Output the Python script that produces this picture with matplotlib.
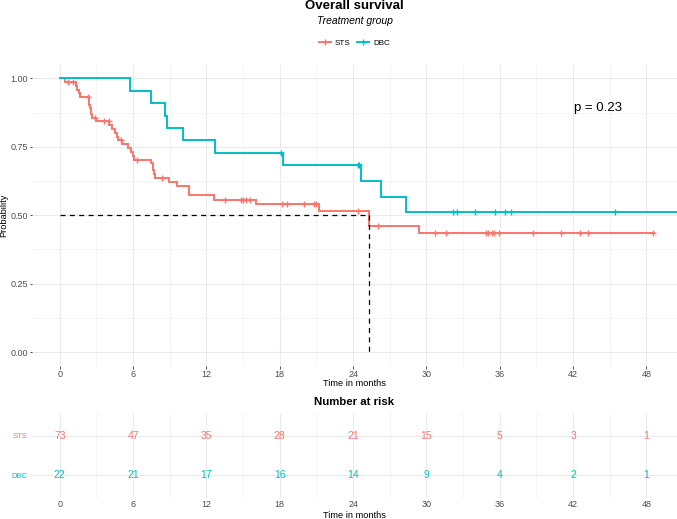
import matplotlib
matplotlib.use("Agg")
import matplotlib.pyplot as plt
from matplotlib.lines import Line2D
import numpy as np

plt.rcParams['font.family'] = ['Liberation Sans', 'DejaVu Sans']

# Kaplan-Meier curves (time in months, survival after each step)
STS_TIME = [0, 0.45, 1.3, 1.45, 1.55, 1.66, 2.4, 2.5, 2.55, 2.6, 3.0, 4.05, 4.3, 4.5,
            4.7, 4.8, 5.1, 5.6, 5.8, 6.0, 6.1, 7.5, 7.6, 7.7, 7.8, 8.9, 9.6, 10.6,
            12.6, 16.05, 21.2, 25.3, 29.4, 48.6]
STS_SURV = [1.0, 0.986, 0.972, 0.959, 0.945, 0.931, 0.904, 0.890, 0.870, 0.854, 0.843,
            0.829, 0.815, 0.800, 0.787, 0.773, 0.760, 0.745, 0.731, 0.717, 0.703, 0.689,
            0.666, 0.651, 0.637, 0.622, 0.606, 0.573, 0.557, 0.539, 0.515, 0.462, 0.435,
            0.435]
STS_CENSOR = [0.65, 1.1, 2.3, 2.9, 3.6, 4.0, 5.0, 6.3, 8.4, 13.5, 14.8, 15.0, 15.2, 15.6,
              18.2, 18.6, 20.0, 20.8, 21.0, 24.4, 26.0, 30.7, 31.6, 34.9, 35.0, 35.4,
              35.5, 35.95, 38.7, 41.0, 42.6, 43.2, 48.5]

DBC_TIME = [0, 5.75, 7.5, 8.6, 8.75, 10.05, 12.7, 18.25, 24.66, 26.3, 28.3, 51.0]
DBC_SURV = [1.0, 0.955, 0.909, 0.864, 0.818, 0.773, 0.727, 0.682, 0.625, 0.568, 0.511, 0.511]
DBC_CENSOR = [18.1, 24.4, 24.5, 32.2, 32.5, 34.0, 35.6, 36.4, 36.9, 45.4]

MEDIAN_TIME = 25.3
P_TEXT = "p = 0.23"

RISK_TIMES = [0, 6, 12, 18, 24, 30, 36, 42, 48]
STS_AT_RISK = [73, 47, 35, 28, 21, 15, 5, 3, 1]
DBC_AT_RISK = [22, 21, 17, 16, 14, 9, 4, 2, 1]

RED = '#F8766D'
TEAL = '#00BFC4'
GRID_MAJ = '#EBEBEB'
GRID_MIN = '#F3F3F3'
TICK_COL = '#4D4D4D'

W, H = 677, 519
XLIM = (-2.27, 50.5)


def surv_at(times, surv, t):
    idx = np.searchsorted(times, t, side='right') - 1
    return np.asarray(surv)[idx]


def style_grid(ax, yminor=True):
    ax.set_xticks(RISK_TIMES)
    ax.set_xticks(np.arange(3, 50, 6), minor=True)
    ax.grid(True, which='major', color=GRID_MAJ, lw=0.8)
    ax.grid(True, which='minor', axis='x', color=GRID_MIN, lw=0.6)
    if yminor:
        ax.grid(True, which='minor', axis='y', color=GRID_MIN, lw=0.6)
    ax.set_axisbelow(True)
    for s in ax.spines.values():
        s.set_visible(False)


fig = plt.figure(figsize=(W / 100, H / 100), dpi=100)
cx = (32 + W) / 2 / W

# ---- survival curves ----
ax = fig.add_axes([32 / W, 1 - 365.7 / H, 1 - 32 / W, (365.7 - 64.6) / H])
ax.set_xlim(*XLIM)
ax.set_ylim(-0.05, 1.05)
style_grid(ax)
ax.set_yticks([0, 0.25, 0.5, 0.75, 1.0])
ax.set_yticklabels(['0.00', '0.25', '0.50', '0.75', '1.00'])
ax.set_yticks([0.125, 0.375, 0.625, 0.875], minor=True)
ax.tick_params(which='major', labelsize=6.5, labelcolor=TICK_COL, color='#333333',
               length=1.8, width=0.6, pad=1.0)
ax.tick_params(which='minor', length=0)

for times, surv, cens, col in [(STS_TIME, STS_SURV, STS_CENSOR, RED),
                               (DBC_TIME, DBC_SURV, DBC_CENSOR, TEAL)]:
    ax.step(times, surv, where='post', color=col, lw=1.4, solid_joinstyle='miter')
for times, surv, cens, col in [(STS_TIME, STS_SURV, STS_CENSOR, RED),
                               (DBC_TIME, DBC_SURV, DBC_CENSOR, TEAL)]:
    ax.plot(cens, surv_at(times, surv, cens), linestyle='none', marker='+',
            ms=5, mew=1.0, color=col)

ax.plot([0, MEDIAN_TIME], [0.5, 0.5], color='black', lw=0.9, dashes=(4, 3.5))
ax.plot([MEDIAN_TIME, MEDIAN_TIME], [0.5, 0], color='black', lw=0.9, dashes=(4, 3.5))

ax.text(42.1, 0.893, P_TEXT, ha='left', va='center', fontsize=9.5)

fig.text(4 / W, 1 - 215 / H, 'Probability', rotation=90, ha='center', va='center',
         fontsize=6.7)
fig.text(cx, 1 - 383 / H, 'Time in months', ha='center', va='center', fontsize=6.7)

# ---- titles and legend ----
fig.text(cx, 1 - 9.3 / H, 'Overall survival', ha='center', va='baseline',
         fontsize=9.5, fontweight='bold')
fig.text(cx, 1 - 24.3 / H, 'Treatment group', ha='center', va='baseline',
         fontsize=7.5, style='italic')
handles = [Line2D([], [], color=RED, lw=1.4, marker='+', ms=5, mew=1.0),
           Line2D([], [], color=TEAL, lw=1.4, marker='+', ms=5, mew=1.0)]
fig.legend(handles, ['STS', 'DBC'], loc='center', bbox_to_anchor=(cx, 1 - 43.3 / H),
           ncol=2, frameon=False, fontsize=5.8, handlelength=1.5, handletextpad=0.5,
           columnspacing=0.8, numpoints=1)

# ---- number at risk table ----
axr = fig.add_axes([32 / W, 1 - 498.4 / H, 1 - 32 / W, (498.4 - 412.6) / H])
axr.set_xlim(*XLIM)
axr.set_ylim(0.4, 2.6)
style_grid(axr, yminor=False)
axr.set_yticks([1, 2])
axr.set_yticklabels(['DBC', 'STS'])
for lab, col in zip(axr.get_yticklabels(), [TEAL, RED]):
    lab.set_color(col)
axr.tick_params(axis='y', labelsize=5.5, length=0, pad=3.5)
axr.tick_params(axis='x', labelsize=6.5, labelcolor=TICK_COL, length=0, pad=1.5)
axr.tick_params(which='minor', length=0)

for t, n_sts, n_dbc in zip(RISK_TIMES, STS_AT_RISK, DBC_AT_RISK):
    axr.text(t, 2, str(n_sts), ha='center', va='center', color=RED, fontsize=7.5)
    axr.text(t, 1, str(n_dbc), ha='center', va='center', color=TEAL, fontsize=7.5)

fig.text(cx, 1 - 402 / H, 'Number at risk', ha='center', va='center', fontsize=8.2,
         fontweight='bold')
fig.text(cx, 1 - 515 / H, 'Time in months', ha='center', va='center', fontsize=6.7)

fig.savefig('out.png', dpi=100, facecolor='white')
